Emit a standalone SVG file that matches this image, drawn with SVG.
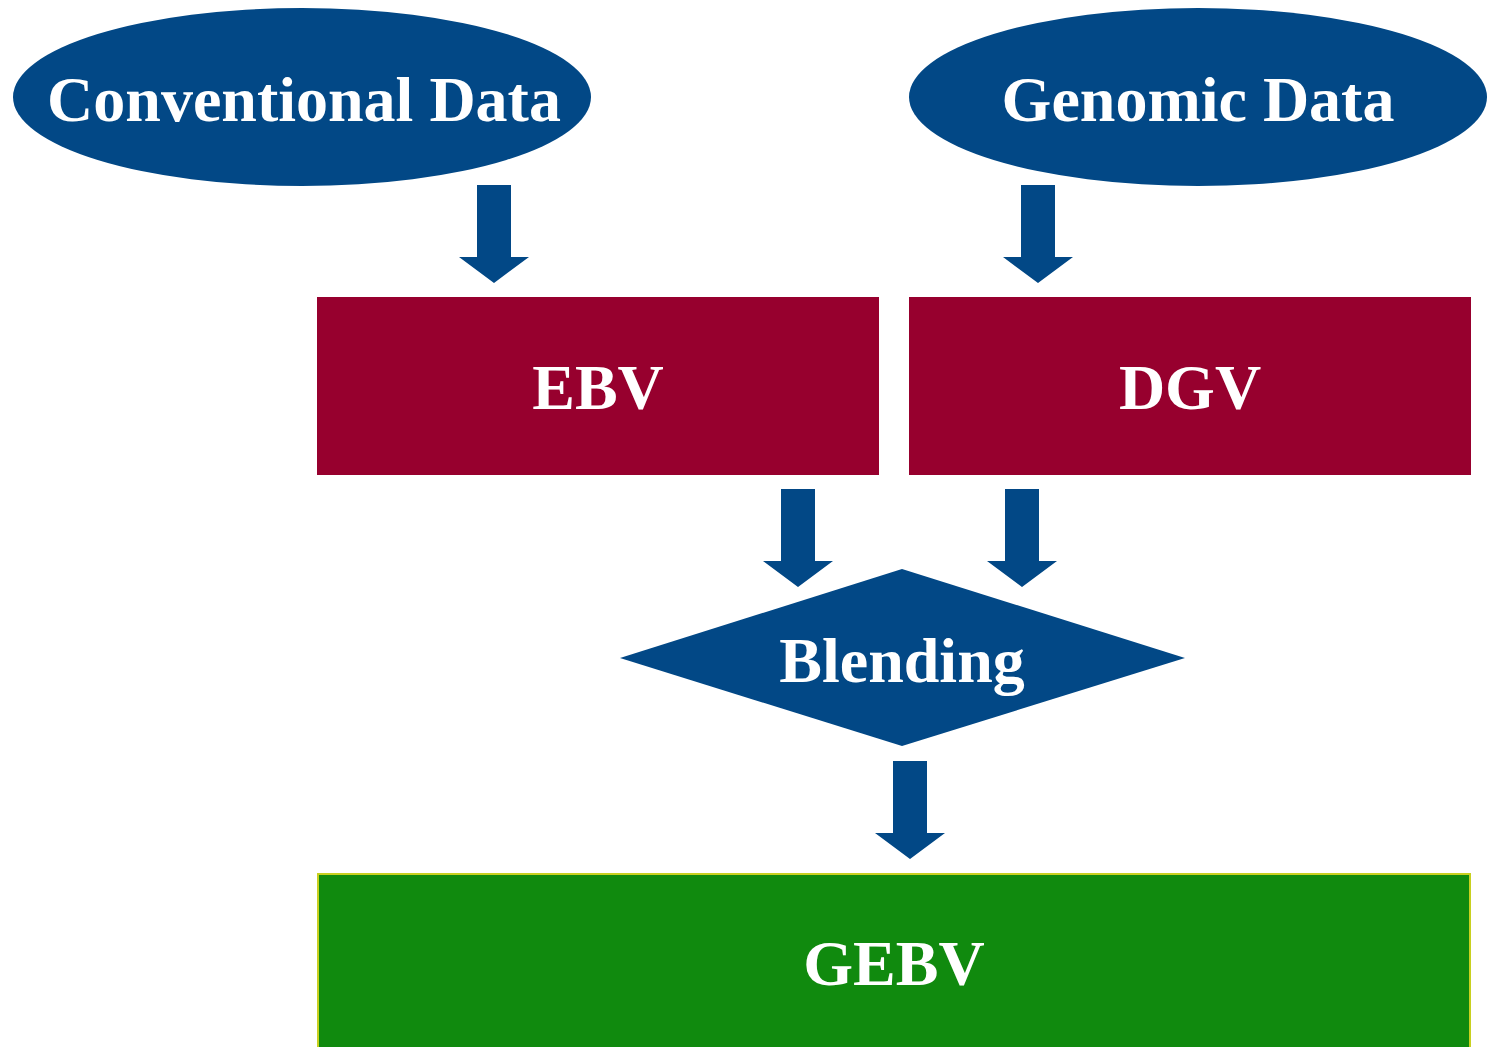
<svg xmlns="http://www.w3.org/2000/svg" width="1490" height="1047" viewBox="0 0 1490 1047">
<style>
.lbl{font-family:"Liberation Serif","Times New Roman",serif;font-weight:bold;font-size:64px;fill:#ffffff;text-anchor:middle}
.blue{fill:#024886}
.arrow{fill:#024886}
</style>
<defs>
<path id="arr" d="M-17,0 H17 V72 H35 L0,98 L-35,72 H-17 Z"/>
</defs>
<rect width="1490" height="1047" fill="#ffffff"/>
<g id="conventional">
<ellipse class="blue" cx="302" cy="97" rx="289" ry="89"/>
<text class="lbl" x="304" y="121">Conventional Data</text>
</g>
<g id="genomic">
<ellipse class="blue" cx="1198" cy="97" rx="289" ry="89"/>
<text class="lbl" x="1198" y="121">Genomic Data</text>
</g>
<g id="ebv">
<rect x="317" y="297" width="562" height="178" fill="#97002e"/>
<text class="lbl" x="598" y="409">EBV</text>
</g>
<g id="dgv">
<rect x="909" y="297" width="562" height="178" fill="#97002e"/>
<text class="lbl" x="1190" y="409">DGV</text>
</g>
<g id="blending">
<polygon class="blue" points="620,658 902,569 1185,658 902,746"/>
<text class="lbl" x="902" y="682">Blending</text>
</g>
<g id="gebv">
<rect x="318" y="874" width="1152" height="180" fill="#108a0e" stroke="#c8d020" stroke-width="2"/>
<text class="lbl" x="894" y="985">GEBV</text>
</g>
<g id="connectors">
<use href="#arr" class="arrow" x="494" y="185"/>
<use href="#arr" class="arrow" x="1038" y="185"/>
<use href="#arr" class="arrow" x="798" y="489"/>
<use href="#arr" class="arrow" x="1022" y="489"/>
<use href="#arr" class="arrow" x="910" y="761"/>
</g>
</svg>
